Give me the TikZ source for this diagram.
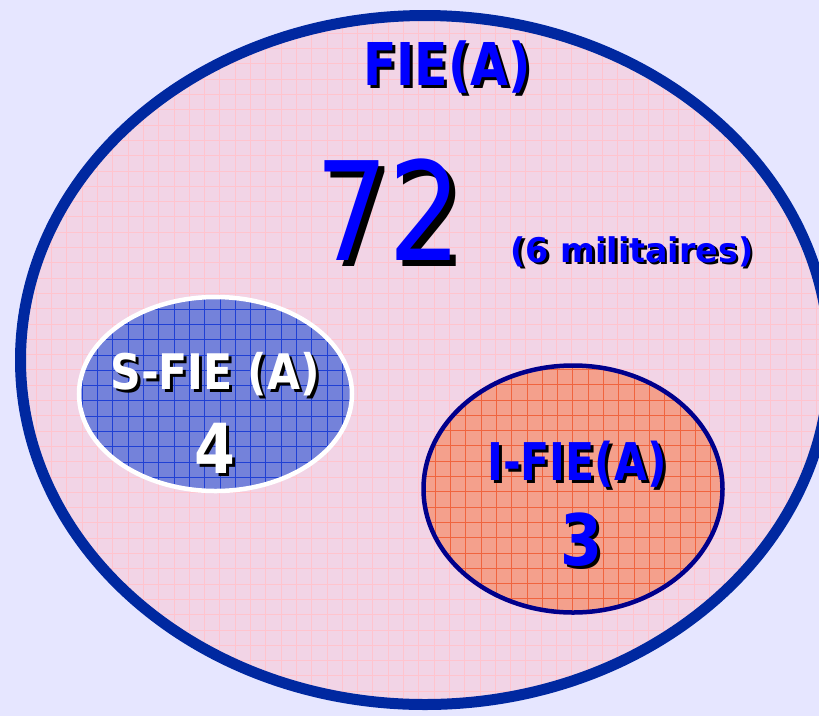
\documentclass[tikz,border=0pt]{standalone}
\usepackage{fontspec}
\usepackage{graphicx}
\setmainfont{DejaVu Sans}
\definecolor{bg}{HTML}{E6E6FF}
\definecolor{bigborder}{HTML}{0028A0}
\definecolor{pinkfill}{HTML}{F2D4E6}
\definecolor{pinkgrid}{HTML}{FFC4CE}
\definecolor{bluefill}{HTML}{7482DA}
\definecolor{bluegrid}{HTML}{2040D4}
\definecolor{salmonfill}{HTML}{F4A08C}
\definecolor{salmongrid}{HTML}{F0643E}
\definecolor{innerborder}{HTML}{00008C}
\definecolor{tblue}{HTML}{0000FF}
\begin{document}
\begin{tikzpicture}[x=1pt,y=-1pt,
  txt/.style={inner sep=0pt, outer sep=0pt, anchor=base},
  gridline/.style={line width=1pt}]
\fill[bg] (0,0) rectangle (819,716);
\useasboundingbox (0,0) rectangle (819,716);
% big ellipse
\begin{scope}
  \clip (425,360) ellipse [x radius=405, y radius=345];
  \fill[pinkfill] (0,0) rectangle (840,716);
  \foreach \i in {0,...,55} \draw[gridline, pinkgrid] ({5.7+15.3*\i},0) -- ++(0,716);
  \foreach \j in {0,...,47} \draw[gridline, pinkgrid] (0,{2.7+15.3*\j}) -- ++(840,0);
\end{scope}
\draw[bigborder, line width=11pt] (425,360) ellipse [x radius=404.5, y radius=344.5];
% S-FIE ellipse
\begin{scope}
  \clip (215.5,394) ellipse [x radius=136.5, y radius=97];
  \fill[bluefill] (70,290) rectangle (360,500);
  \foreach \i in {0,...,19} \draw[gridline, bluegrid, line width=0.8pt] ({82.2+15.3*\i},290) -- ++(0,210);
  \foreach \j in {0,...,14} \draw[gridline, bluegrid, line width=0.8pt] (70,{293.7+15.3*\j}) -- ++(290,0);
\end{scope}
\draw[white, line width=4.5pt] (215.5,394) ellipse [x radius=136.5, y radius=97];
% I-FIE ellipse
\begin{scope}
  \clip (573,489) ellipse [x radius=149.5, y radius=123.5];
  \fill[salmonfill] (415,360) rectangle (730,620);
  \foreach \i in {0,...,21} \draw[gridline, salmongrid, line width=0.8pt] ({419.8+15.3*\i},360) -- ++(0,260);
  \foreach \j in {0,...,17} \draw[gridline, salmongrid, line width=0.8pt] (415,{369.3+15.3*\j}) -- ++(315,0);
\end{scope}
\draw[innerborder, line width=4.5pt] (573,489) ellipse [x radius=149.5, y radius=123.5];
% texts
\node[txt, text=black] (fieS) at (450,88) {\fontsize{59}{59}\selectfont\bfseries\scalebox{0.83}[1]{FIE(A)}};
\node[txt, text=tblue] (fie) at (447,85) {\fontsize{59}{59}\selectfont\bfseries\scalebox{0.83}[1]{FIE(A)}};
\node[txt, text=black] (numS) at (395,266) {\fontsize{137}{137}\selectfont\scalebox{0.84}[1]{72}};
\node[txt, text=tblue] (num) at (389,260) {\fontsize{137}{137}\selectfont\scalebox{0.84}[1]{72}};
\node[txt, text=black] (milS) at (634.5,264.5) {\fontsize{34}{34}\selectfont\bfseries\scalebox{0.98}[1]{(6 militaires)}};
\node[txt, text=tblue] (mil) at (632,262) {\fontsize{34}{34}\selectfont\bfseries\scalebox{0.98}[1]{(6 militaires)}};
\node[txt, text=black] (sfieS) at (218,392) {\fontsize{49}{49}\selectfont\bfseries\scalebox{0.87}[1]{S-FIE (A)}};
\node[txt, text=white] (sfie) at (215,389) {\fontsize{49}{49}\selectfont\bfseries\scalebox{0.87}[1]{S-FIE (A)}};
\node[txt, text=black] (fourS) at (218,476) {\fontsize{69}{69}\selectfont\bfseries\scalebox{0.85}[1]{4}};
\node[txt, text=white] (four) at (215,473) {\fontsize{69}{69}\selectfont\bfseries\scalebox{0.85}[1]{4}};
\node[txt, text=black] (ifieS) at (580,483) {\fontsize{52}{52}\selectfont\bfseries\scalebox{0.82}[1]{I-FIE(A)}};
\node[txt, text=tblue] (ifie) at (577,480) {\fontsize{52}{52}\selectfont\bfseries\scalebox{0.82}[1]{I-FIE(A)}};
\node[txt, text=black] (threeS) at (584,568) {\fontsize{71}{71}\selectfont\bfseries\scalebox{0.85}[1]{3}};
\node[txt, text=tblue] (three) at (581,565) {\fontsize{71}{71}\selectfont\bfseries\scalebox{0.85}[1]{3}};
\end{tikzpicture}
\end{document}
